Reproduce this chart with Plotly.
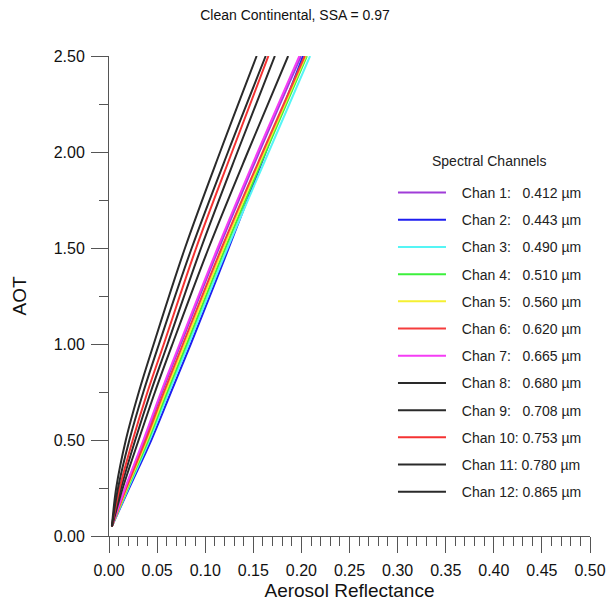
import plotly.graph_objects as go

aot = [0.05, 0.25, 0.5, 0.75, 1.0, 1.5, 2.0, 2.5]

channels = ["Chan 1:", "Chan 2:", "Chan 3:", "Chan 4:", "Chan 5:", "Chan 6:",
            "Chan 7:", "Chan 8:", "Chan 9:", "Chan 10:", "Chan 11:", "Chan 12:"]
wavelengths = ["0.412", "0.443", "0.490", "0.510", "0.560", "0.620",
               "0.665", "0.680", "0.708", "0.753", "0.780", "0.865"]

refl_ch1 = [0.003, 0.0172, 0.0366, 0.0551, 0.0746, 0.1143, 0.1562, 0.1996]
refl_ch2 = [0.003, 0.0210, 0.0440, 0.0645, 0.0850, 0.1245, 0.1630, 0.2018]
refl_ch3 = [0.003, 0.0201, 0.0421, 0.0622, 0.0828, 0.1232, 0.1660, 0.2090]
refl_ch4 = [0.003, 0.0194, 0.0408, 0.0605, 0.0808, 0.1209, 0.1629, 0.2057]
refl_ch5 = [0.003, 0.0187, 0.0395, 0.0588, 0.0789, 0.1190, 0.1613, 0.2046]
refl_ch6 = [0.003, 0.0180, 0.0382, 0.0571, 0.0769, 0.1171, 0.1598, 0.2035]
refl_ch7 = [0.003, 0.0168, 0.0358, 0.0541, 0.0734, 0.1129, 0.1546, 0.1979]
refl_ch8 = [0.003, 0.0143, 0.0308, 0.0478, 0.0660, 0.1036, 0.1443, 0.1862]
refl_ch9 = [0.003, 0.0125, 0.0273, 0.0434, 0.0609, 0.0957, 0.1335, 0.1724]
refl_ch10 = [0.003, 0.0111, 0.0247, 0.0400, 0.0570, 0.0906, 0.1279, 0.1657]
refl_ch11 = [0.003, 0.0094, 0.0212, 0.0357, 0.0520, 0.0860, 0.1237, 0.1629]
refl_ch12 = [0.003, 0.0075, 0.0175, 0.0310, 0.0465, 0.0790, 0.1155, 0.1535]

series = [refl_ch1, refl_ch2, refl_ch3, refl_ch4, refl_ch5, refl_ch6,
          refl_ch7, refl_ch8, refl_ch9, refl_ch10, refl_ch11, refl_ch12]
colors = ["#A03CD8", "#1E1EF0", "#55F5F5", "#3CF03C", "#F5F032", "#F53C3C",
          "#F53CF5", "#2A2A2A", "#2A2A2A", "#F53232", "#2A2A2A", "#2A2A2A"]

fig = go.Figure()
for i, (name, wl, ys, c) in enumerate(zip(channels, wavelengths, series, colors)):
    pad = "\u2007" if len(name) == 7 else ""
    fig.add_trace(go.Scatter(
        x=ys, y=aot, mode="lines",
        line=dict(color=c, width=2, shape="spline", smoothing=1.0),
        name=f"\u2002\u00a0{name}{pad} {wl} µm",
        legendgroup=f"g{i}",
    ))

font_family = "Liberation Sans, Arial, sans-serif"
axis_col = "#555555"

fig.update_layout(
    width=607, height=604,
    margin=dict(l=109, r=17, t=56, b=68, autoexpand=False),
    paper_bgcolor="white", plot_bgcolor="white",
    font=dict(family=font_family, color="#111111"),
    title=dict(text="Clean Continental, SSA = 0.97", x=0.486, xanchor="center",
               y=0.975, yanchor="middle", font=dict(size=14, color="#111111")),
    showlegend=True,
    legend=dict(
        x=0.5904, y=0.748, xanchor="left", yanchor="top",
        bgcolor="rgba(0,0,0,0)", borderwidth=0,
        font=dict(size=14, color="#222222"),
        tracegroupgap=6,
        itemwidth=48,
    ),
    annotations=[dict(
        text="Spectral Channels", xref="paper", yref="paper",
        x=0.790, y=0.781, xanchor="center", yanchor="middle",
        showarrow=False, font=dict(size=14, color="#222222"),
    )],
    xaxis=dict(
        range=[0, 0.5], dtick=0.05, tick0=0, tickformat=".2f",
        showgrid=False, zeroline=False, automargin=False,
        showline=True, linecolor=axis_col, linewidth=1,
        ticks="outside", ticklen=16, tickcolor=axis_col, tickwidth=1,
        tickfont=dict(size=16, color="#111111"), ticklabelstandoff=4,
        minor=dict(dtick=0.01, ticks="outside", ticklen=9, tickcolor=axis_col, tickwidth=1),
        title=dict(text="Aerosol Reflectance", font=dict(size=19, color="#111111"), standoff=5),
    ),
    yaxis=dict(
        range=[0, 2.5], dtick=0.5, tick0=0, tickformat=".2f",
        showgrid=False, zeroline=False, automargin=False,
        showline=True, linecolor=axis_col, linewidth=1,
        ticks="outside", ticklen=17, tickcolor=axis_col, tickwidth=1,
        tickfont=dict(size=16, color="#111111"), ticklabelstandoff=3,
        minor=dict(dtick=0.25, ticks="outside", ticklen=9, tickcolor=axis_col, tickwidth=1),
        title=dict(text="AOT", font=dict(size=19, color="#111111"), standoff=22),
    ),
)

fig.write_html("out.html")
